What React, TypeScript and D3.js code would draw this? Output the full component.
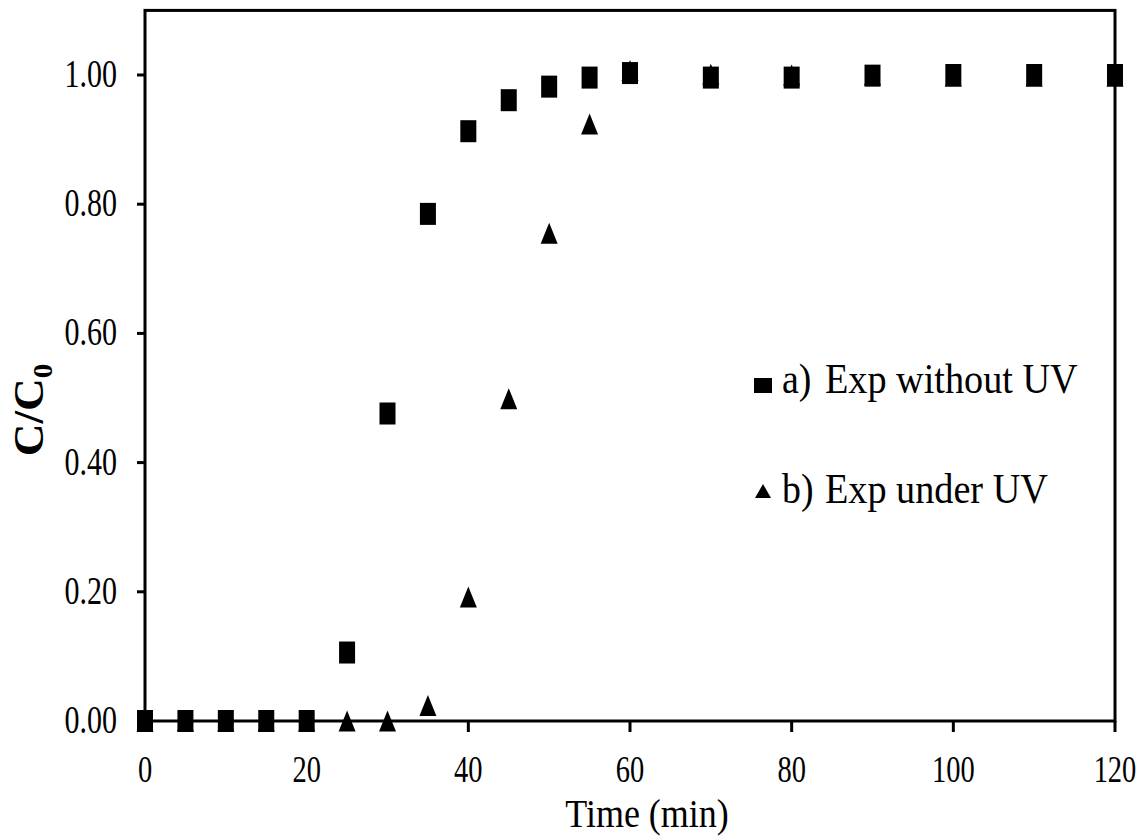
import React from "react";
import * as d3 from "d3";

const times = [0, 5, 10, 15, 20, 25, 30, 35, 40, 45, 50, 55, 60, 70, 80, 90, 100, 110, 120];
const seriesA = [0, 0, 0, 0, 0, 0.106, 0.476, 0.785, 0.913, 0.961, 0.982, 0.996, 1.003, 0.996, 0.996, 0.999, 1.0, 1.0, 1.0];
const seriesB = [0, 0, 0, 0, 0, 0, 0, 0.024, 0.192, 0.499, 0.755, 0.924, 1.007, 1.001, 1.0, 1.0, 0.998, 0.998, 0.998];
const xTicks = [0, 20, 40, 60, 80, 100, 120];
const yTicks = [0, 0.2, 0.4, 0.6, 0.8, 1.0];
const legendLabels = ["a)", "b)"];
const legendNames = ["Exp without UV", "Exp under UV"];

const W = 1146;
const H = 838;
const FONT = "'Liberation Serif', 'Times New Roman', serif";

export default function App() {
  const x = d3.scaleLinear().domain([0, 120]).range([145, 1115]);
  const y = d3.scaleLinear().domain([0, 1.1]).range([721, 10.4]);
  const left = x(0), right = x(120), top = y(1.1), bottom = y(0);

  const tri = (cx: number, cy: number, w: number, h: number) =>
    `M${cx},${cy - h / 2}L${cx + w / 2},${cy + h / 2}L${cx - w / 2},${cy + h / 2}Z`;

  return (
    <svg width={W} height={H} style={{ position: "absolute", left: 0, top: 0, background: "#fff" }}>
      <rect x={0} y={0} width={W} height={H} fill="#fff" />
      {/* frame */}
      <rect x={left} y={top} width={right - left} height={bottom - top} fill="none" stroke="#000" strokeWidth={3} />
      {/* y ticks */}
      {yTicks.map((t) => (
        <g key={"y" + t}>
          <line x1={left - 8} x2={left} y1={y(t)} y2={y(t)} stroke="#000" strokeWidth={3} />
          <text
            transform={`translate(${left - 28},${y(t) + 12}) scale(0.75,1)`}
            textAnchor="end"
            fontFamily={FONT}
            fontSize={40}
            fill="#000"
          >
            {t.toFixed(2)}
          </text>
        </g>
      ))}
      {/* x ticks */}
      {xTicks.map((t) => (
        <g key={"x" + t}>
          <line x1={x(t)} x2={x(t)} y1={bottom} y2={bottom + 11} stroke="#000" strokeWidth={3} />
          <text
            transform={`translate(${x(t)},782) scale(0.75,1)`}
            textAnchor="middle"
            fontFamily={FONT}
            fontSize={38}
            fill="#000"
          >
            {t}
          </text>
        </g>
      ))}
      {/* axis titles */}
      <text
        transform={`translate(647,827) scale(0.9,1)`}
        textAnchor="middle"
        fontFamily={FONT}
        fontSize={40}
        fill="#000"
      >
        Time (min)
      </text>
      <text
        transform={`translate(43,410) rotate(-90) scale(1.08,1)`}
        textAnchor="middle"
        fontFamily={FONT}
        fontSize={42}
        fontWeight="bold"
        fill="#000"
      >
        C/C
        <tspan fontSize={27} dy={9}>0</tspan>
      </text>
      {/* series B triangles (under) */}
      {times.map((t, i) => (
        <path key={"b" + i} d={tri(x(t), y(seriesB[i]), 17, 21)} fill="#000" />
      ))}
      {/* series A squares */}
      {times.map((t, i) => (
        <rect key={"a" + i} x={x(t) - 8} y={y(seriesA[i]) - 11} width={16} height={22} fill="#000" />
      ))}
      {/* legend */}
      <rect x={754} y={378} width={18} height={15} fill="#000" />
      <path d={tri(763, 491, 16, 14)} fill="#000" />
      {legendLabels.map((lab, i) => (
        <g key={"lg" + i}>
          <text
            transform={`translate(782,${393 + i * 110}) scale(0.9,1)`}
            fontFamily={FONT}
            fontSize={42}
            fill="#000"
          >
            {lab}
          </text>
          <text
            transform={`translate(825,${393 + i * 110}) scale(0.91,1)`}
            fontFamily={FONT}
            fontSize={42}
            fill="#000"
          >
            {legendNames[i]}
          </text>
        </g>
      ))}
    </svg>
  );
}
